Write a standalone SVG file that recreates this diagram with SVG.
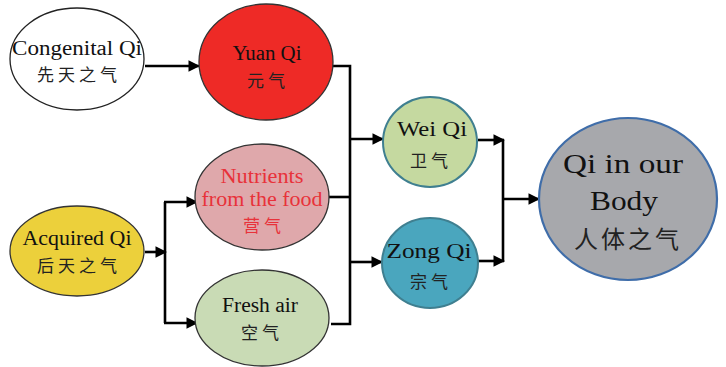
<svg xmlns="http://www.w3.org/2000/svg" width="726" height="367" viewBox="0 0 726 367">
  <style>
    .en { font-family: "Liberation Serif", "DejaVu Serif", serif; font-size: 20px; fill: #111; text-anchor: middle; }
    .zh { font-family: "Noto Sans CJK SC", "Noto Sans CJK TC", sans-serif; font-size: 17px; fill: #222; text-anchor: middle; letter-spacing: 4px; }
    .big { font-size: 28px; }
    .bigzh { font-size: 24px; letter-spacing: 3px; }
    .red { fill: #e8323a; }
    .wire { fill: none; stroke: #000; stroke-width: 2.6; }
    .arrow { fill: none; stroke: #000; stroke-width: 2.6; marker-end: url(#head); }
  </style>
  <defs>
    <marker id="head" viewBox="0 0 10 10" refX="9" refY="5" markerWidth="4.5" markerHeight="4.5" orient="auto" markerUnits="strokeWidth">
      <path d="M0,0 L10,5 L0,10 z" fill="#000"/>
    </marker>
  </defs>
  <rect width="726" height="367" fill="#fff"/>

  <g id="connectors">
    <path class="arrow" d="M145,66 L199,66"/>
    <path class="wire" d="M331,66 L350,66 L350,324 L331,324"/>
    <path class="wire" d="M329,197 L350,197"/>
    <path class="arrow" d="M145,252 L166,252"/>
    <path class="wire" d="M165,202 L165,323"/>
    <path class="arrow" d="M164,202 L197,202"/>
    <path class="arrow" d="M164,323 L197,323"/>
    <path class="arrow" d="M350,139 L383,139"/>
    <path class="arrow" d="M350,262 L382,262"/>
    <path class="arrow" d="M478,140 L504,140"/>
    <path class="arrow" d="M478,261 L504,261"/>
    <path class="wire" d="M503,140 L503,262"/>
    <path class="arrow" d="M503,199 L539,199"/>
  </g>

  <g id="congenital">
    <ellipse cx="77" cy="59" rx="67" ry="51" fill="#fff" stroke="#222" stroke-width="1.3"/>
    <text class="en" x="77" y="55" textLength="130" lengthAdjust="spacingAndGlyphs">Congenital Qi</text>
    <text class="zh" x="79" y="81">先天之气</text>
  </g>

  <g id="yuan">
    <ellipse cx="266" cy="62" rx="67" ry="58" fill="#ee2a26" stroke="#333" stroke-width="1.3"/>
    <text class="en" x="267" y="60" textLength="69" lengthAdjust="spacingAndGlyphs">Yuan Qi</text>
    <text class="zh" x="268" y="87">元气</text>
  </g>

  <g id="nutrients">
    <ellipse cx="262" cy="197" rx="67" ry="53" fill="#dfa8ab" stroke="#333" stroke-width="1.3"/>
    <text class="en red" x="262" y="183" textLength="83" lengthAdjust="spacingAndGlyphs">Nutrients</text>
    <text class="en red" x="262" y="206" textLength="121" lengthAdjust="spacingAndGlyphs">from the food</text>
    <text class="zh red" x="264" y="232">营气</text>
  </g>

  <g id="acquired">
    <ellipse cx="77" cy="251" rx="67" ry="45" fill="#ecd03b" stroke="#333" stroke-width="1.3"/>
    <text class="en" x="77" y="245" textLength="109" lengthAdjust="spacingAndGlyphs">Acquired Qi</text>
    <text class="zh" x="79" y="272">后天之气</text>
  </g>

  <g id="fresh-air">
    <ellipse cx="262" cy="318" rx="67" ry="48" fill="#c9dbb5" stroke="#333" stroke-width="1.3"/>
    <text class="en" x="260" y="312" textLength="76" lengthAdjust="spacingAndGlyphs">Fresh air</text>
    <text class="zh" x="262" y="339">空气</text>
  </g>

  <g id="wei">
    <ellipse cx="430" cy="142" rx="47" ry="45" fill="#c5d9a0" stroke="#3f7f90" stroke-width="2"/>
    <text class="en" x="432" y="136" textLength="70" lengthAdjust="spacingAndGlyphs">Wei Qi</text>
    <text class="zh" x="431" y="167">卫气</text>
  </g>

  <g id="zong">
    <ellipse cx="430" cy="263" rx="48" ry="45" fill="#4aa6be" stroke="#3f7f90" stroke-width="2"/>
    <text class="en" x="429" y="258" textLength="85" lengthAdjust="spacingAndGlyphs">Zong Qi</text>
    <text class="zh" x="431" y="288">宗气</text>
  </g>

  <g id="body">
    <ellipse cx="628" cy="199" rx="89" ry="81" fill="#a7a8ac" stroke="#3f6da9" stroke-width="2.2"/>
    <text class="en big" x="623" y="173" textLength="120" lengthAdjust="spacingAndGlyphs">Qi in our</text>
    <text class="en big" x="624" y="210" textLength="68" lengthAdjust="spacingAndGlyphs">Body</text>
    <text class="zh bigzh" x="628" y="248">人体之气</text>
  </g>
</svg>
